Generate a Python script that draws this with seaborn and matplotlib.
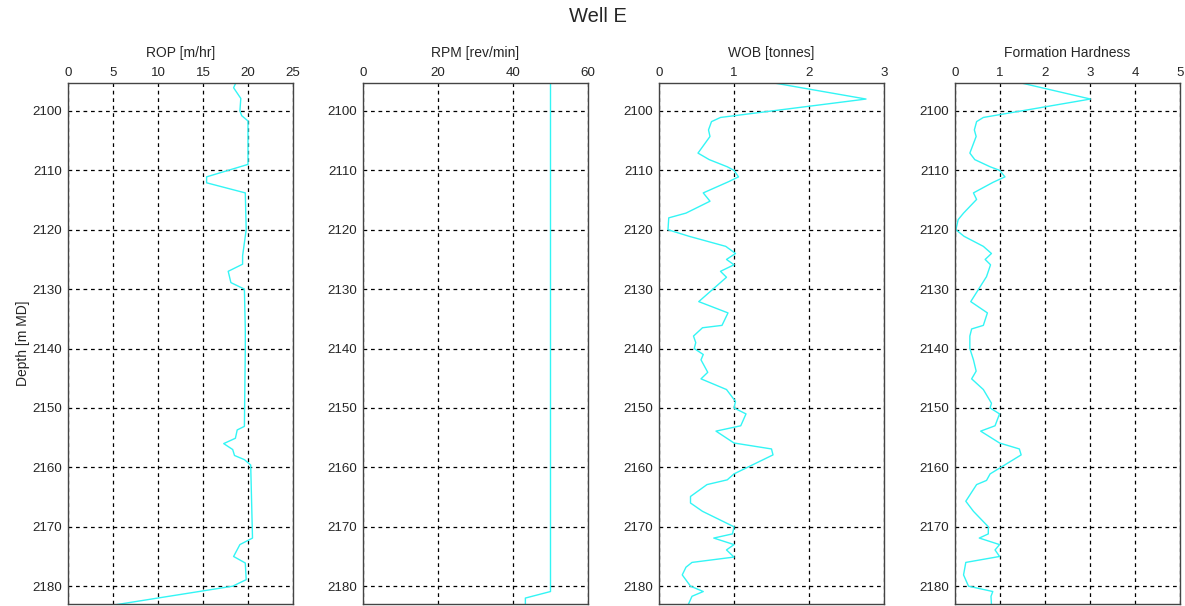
import matplotlib
matplotlib.use("Agg")
import matplotlib.pyplot as plt
import seaborn as sns
import pandas as pd

# ---- data ----
rop_depth = [2095.1, 2096.1, 2097.9, 2100.0, 2100.8, 2101.7, 2109.0, 2111.1, 2112.1, 2113.8,
             2120.0, 2124.4, 2125.8, 2127.0, 2128.9, 2130.0, 2136.8, 2140.0, 2153.1, 2153.7,
             2155.1, 2156.0, 2157.0, 2158.0, 2158.7, 2159.6, 2171.9, 2173.0, 2175.0, 2176.1,
             2178.9, 2180.0, 2183.1]
rop = [18.7, 18.4, 19.2, 19.1, 19.3, 20.0, 20.0, 15.4, 15.4, 19.7,
       19.8, 19.4, 19.4, 17.8, 18.1, 19.6, 19.7, 19.7, 19.6, 18.8,
       18.6, 17.3, 18.3, 18.5, 19.6, 20.3, 20.5, 19.1, 18.4, 19.7,
       19.8, 18.3, 5.4]

rpm_depth = [2095.1, 2180.9, 2182.0, 2183.1]
rpm = [50.0, 50.0, 43.3, 43.3]

wob_depth = [2095.2, 2098.0, 2101.1, 2101.8, 2103.2, 2104.3, 2107.1, 2108.2, 2109.4, 2110.0,
             2111.1, 2111.9, 2113.8, 2115.2, 2117.2, 2118.0, 2120.0, 2121.1, 2122.8, 2124.0,
             2125.0, 2125.9, 2127.0, 2128.0, 2132.1, 2134.0, 2136.1, 2136.5, 2137.9, 2139.0,
             2140.0, 2141.0, 2141.9, 2144.0, 2145.1, 2146.9, 2148.9, 2150.0, 2151.0, 2153.0,
             2153.9, 2155.9, 2156.9, 2157.9, 2161.1, 2162.1, 2162.9, 2164.9, 2166.0, 2167.4,
             2170.0, 2171.2, 2171.9, 2173.0, 2173.9, 2175.1, 2176.0, 2176.8, 2178.1, 2180.0,
             2180.9, 2181.7, 2183.1]
wob = [1.49, 2.76, 0.82, 0.70, 0.66, 0.68, 0.52, 0.67, 0.91, 1.00,
       1.06, 0.93, 0.59, 0.68, 0.36, 0.13, 0.12, 0.40, 0.89, 1.02,
       0.90, 1.00, 0.82, 0.90, 0.53, 0.92, 0.84, 0.58, 0.46, 0.49,
       0.47, 0.59, 0.56, 0.65, 0.56, 0.90, 1.02, 1.00, 1.16, 1.09,
       0.76, 1.00, 1.50, 1.52, 1.00, 0.91, 0.64, 0.42, 0.42, 0.58,
       1.00, 0.98, 0.73, 1.00, 0.90, 1.00, 0.44, 0.36, 0.31, 0.42,
       0.59, 0.44, 0.39]

hard_depth = [2095.1, 2098.0, 2101.1, 2101.8, 2103.2, 2104.3, 2107.1, 2108.2, 2109.4, 2110.0,
              2111.1, 2112.0, 2113.8, 2114.9, 2117.2, 2118.3, 2120.0, 2121.1, 2122.8, 2124.0,
              2125.0, 2125.9, 2127.9, 2132.1, 2134.0, 2136.1, 2136.7, 2137.9, 2139.0, 2140.0,
              2141.9, 2143.8, 2145.1, 2146.9, 2149.2, 2150.0, 2151.0, 2153.0, 2153.9, 2155.9,
              2156.9, 2157.9, 2161.1, 2162.2, 2162.9, 2165.7, 2167.4, 2170.0, 2171.2, 2171.9,
              2173.0, 2173.9, 2175.0, 2176.0, 2178.1, 2180.0, 2180.9, 2181.7, 2183.1]
hardness = [1.36, 3.01, 0.63, 0.48, 0.43, 0.47, 0.33, 0.44, 0.78, 0.99,
            1.11, 0.85, 0.41, 0.48, 0.19, 0.07, 0.02, 0.20, 0.63, 0.81,
            0.67, 0.79, 0.70, 0.35, 0.72, 0.63, 0.37, 0.33, 0.33, 0.33,
            0.41, 0.47, 0.37, 0.63, 0.81, 0.78, 0.99, 0.89, 0.57, 0.99,
            1.43, 1.47, 0.78, 0.70, 0.48, 0.24, 0.41, 0.74, 0.74, 0.54,
            0.99, 0.89, 0.99, 0.24, 0.19, 0.30, 0.84, 0.80, 0.81]

panel_titles = ["ROP [m/hr]", "RPM [rev/min]", "WOB [tonnes]", "Formation Hardness"]
x_ticks = [[0, 5, 10, 15, 20, 25], [0, 20, 40, 60], [0, 1, 2, 3], [0, 1, 2, 3, 4, 5]]
y_ticks = [2100, 2110, 2120, 2130, 2140, 2150, 2160, 2170, 2180]
series = [(rop, rop_depth), (rpm, rpm_depth), (wob, wob_depth), (hardness, hard_depth)]

# ---- plot ----
sns.set_style("white")
plt.rcParams["font.family"] = ["Liberation Sans", "DejaVu Sans"]

fig = plt.figure(figsize=(11.85, 6.06), dpi=100)
lefts = [68, 363, 659, 955]
W, H = 1185, 606
top_px, bot_px, w_px = 83, 604, 225

for i, (vals, dep) in enumerate(series):
    ax = fig.add_axes([lefts[i] / W, 1 - bot_px / H, w_px / W, (bot_px - top_px) / H])
    df = pd.DataFrame({"value": vals, "depth": dep})
    sns.lineplot(data=df, x="value", y="depth", orient="y", sort=False, estimator=None,
                 color="#33f5f5", linewidth=1.0, ax=ax)
    ax.set_xlim(x_ticks[i][0], x_ticks[i][-1])
    ax.set_ylim(2183.0, 2095.3)
    ax.set_xticks(x_ticks[i])
    ax.set_yticks(y_ticks)
    ax.xaxis.tick_top()
    ax.xaxis.set_label_position("top")
    ax.set_xlabel(panel_titles[i], fontsize=10, labelpad=7)
    ax.set_ylabel("Depth [m MD]" if i == 0 else "", fontsize=10, labelpad=2)
    ax.tick_params(axis="both", labelsize=9.6, length=0, pad=3)
    ax.tick_params(axis="y", pad=4)
    ax.grid(True, color="black", linestyle=(0, (3, 3)), linewidth=0.9)
    for s in ax.spines.values():
        s.set_color("#444444")
        s.set_linewidth(1.0)

fig.text(0.505, 1 - 17 / H, "Well E", ha="center", va="center", fontsize=14.5)
fig.savefig("out.png", dpi=100)
